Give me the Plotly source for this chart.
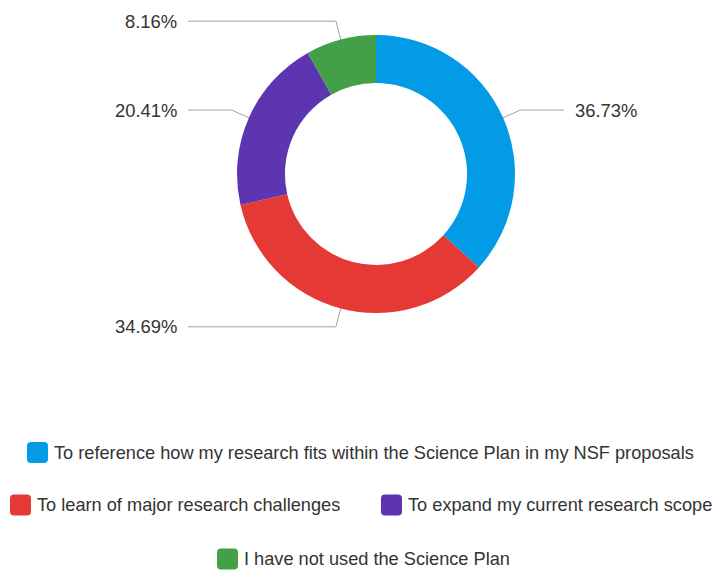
import numpy as np
import plotly.graph_objects as go

# DATA
labels = [
    "To reference how my research fits within the Science Plan in my NSF proposals",
    "To learn of major research challenges",
    "To expand my current research scope",
    "I have not used the Science Plan",
]
values = [18, 17, 10, 4]
colors = ["#039BE5", "#E53935", "#5E35B1", "#43A047"]

# page has an 8px body margin, so the figure is shrunk and the axes offset
OFF = 8
W, H = 723 - OFF, 570 - OFF
cx, cy, R = 376, 174, 139          # donut centre / outer radius (window px)
FONT = "Liberation Sans, Arial, sans-serif"
TXT = "#333333"
FS = 18.2

fig = go.Figure()

# donut
fx, fy = cx - OFF, H - (cy - OFF)
fig.add_trace(go.Pie(
    labels=labels, values=values, marker=dict(colors=colors),
    hole=0.655, sort=False, direction="clockwise", rotation=0,
    textinfo="none", hoverinfo="label+percent", showlegend=False,
    domain=dict(x=[(fx - R) / W, (fx + R) / W], y=[(fy - R) / H, (fy + R) / H]),
))

# leader lines + percentage labels, computed from slice mid-angles
vals = np.array(values, dtype=float)
pct = vals / vals.sum() * 100
mids = (np.cumsum(vals) - vals / 2) / vals.sum() * 2 * np.pi
lx, ly = [], []
annotations = []
for p, a in zip(pct, mids):
    x0, y0 = cx + 117 * np.sin(a), cy - 117 * np.cos(a)
    x1, y1 = cx + 158 * np.sin(a), cy - 158 * np.cos(a)
    right = np.sin(a) > 0
    x2 = 564 if right else 188
    lx += [x0, x1, x2, None]
    ly += [y0, y1, y1, None]
    annotations.append(dict(
        x=x2 + (9 if right else -9), y=y1, xref="x", yref="y",
        text=f"{p:.2f}%", showarrow=False,
        xanchor="left" if right else "right", yanchor="middle",
        font=dict(family=FONT, size=18.4, color=TXT),
    ))

fig.add_trace(go.Scatter(
    x=lx, y=ly, mode="lines", line=dict(color="#a0a0a0", width=1),
    hoverinfo="skip", showlegend=False,
))

# custom legend: swatch left edge and row centre (window px)
legend_pos = [(27, 452.5), (10, 505), (381, 505), (217, 559)]
shapes = []
s, r = 21, 4
for (lxp, lyp), c, lab in zip(legend_pos, colors, labels):
    x0, x1 = lxp, lxp + s
    y0, y1 = lyp - s / 2, lyp + s / 2
    path = (f"M{x0 + r},{y0} L{x1 - r},{y0} Q{x1},{y0} {x1},{y0 + r} "
            f"L{x1},{y1 - r} Q{x1},{y1} {x1 - r},{y1} L{x0 + r},{y1} "
            f"Q{x0},{y1} {x0},{y1 - r} L{x0},{y0 + r} Q{x0},{y0} {x0 + r},{y0} Z")
    shapes.append(dict(type="path", path=path, xref="x", yref="y",
                       fillcolor=c, line=dict(width=0)))
    annotations.append(dict(
        x=x1 + 4, y=lyp, xref="x", yref="y", text=lab, showarrow=False,
        xanchor="left", yanchor="middle",
        font=dict(family=FONT, size=FS, color=TXT),
    ))

fig.update_layout(
    width=W, height=H,
    margin=dict(l=0, r=0, t=0, b=0),
    paper_bgcolor="white", plot_bgcolor="rgba(0,0,0,0)",
    xaxis=dict(range=[OFF, OFF + W], visible=False, fixedrange=True, domain=[0, 1]),
    yaxis=dict(range=[OFF + H, OFF], visible=False, fixedrange=True, domain=[0, 1]),
    annotations=annotations, shapes=shapes,
    showlegend=False,
)

fig.write_html("out.html")
